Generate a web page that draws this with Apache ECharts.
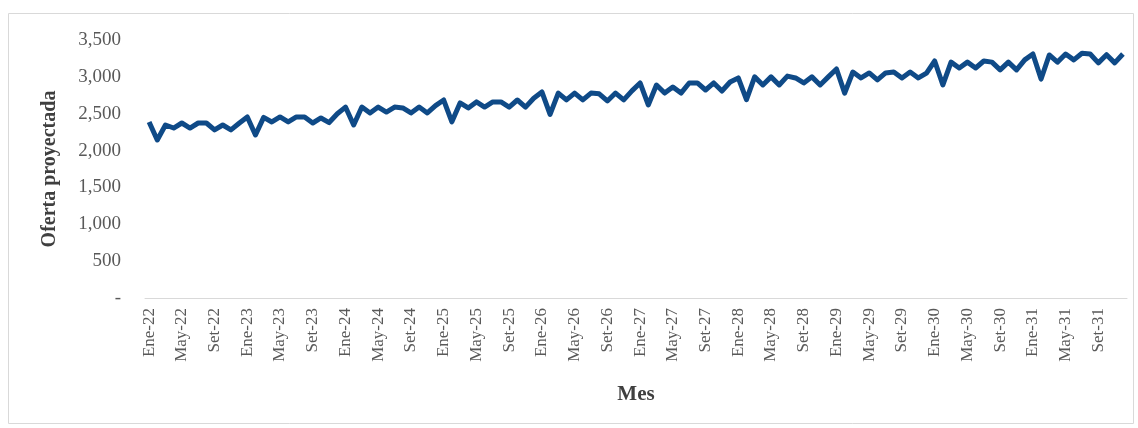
<!DOCTYPE html>
<html>
<head>
<meta charset="utf-8">
<script src="https://cdn.jsdelivr.net/npm/echarts@6/dist/echarts.min.js"></script>
<style>
  html, body { margin: 0; padding: 0; background: #fff; }
  #chart { width: 1138px; height: 428px; }
</style>
</head>
<body>
<div id="chart"></div>
<script>
// months and years for the category labels
var meses = ["Ene", "Feb", "Mar", "Abr", "May", "Jun", "Jul", "Ago", "Set", "Oct", "Nov", "Dic"];
var anios = ["22", "23", "24", "25", "26", "27", "28", "29", "30", "31"];

// projected supply, one list per year
var oferta2022 = [2388, 2144, 2347, 2306, 2374, 2306, 2374, 2374, 2280, 2347, 2280, 2370];
var oferta2023 = [2456, 2212, 2450, 2388, 2456, 2388, 2456, 2456, 2374, 2442, 2380, 2500];
var oferta2024 = [2590, 2347, 2590, 2510, 2590, 2523, 2590, 2578, 2510, 2590, 2510, 2610];
var oferta2025 = [2686, 2390, 2646, 2578, 2660, 2590, 2660, 2660, 2590, 2686, 2590, 2710];
var oferta2026 = [2795, 2490, 2780, 2687, 2780, 2687, 2780, 2770, 2673, 2780, 2687, 2810];
var oferta2027 = [2917, 2619, 2890, 2780, 2863, 2780, 2917, 2917, 2822, 2917, 2808, 2930];
var oferta2028 = [2985, 2690, 3000, 2890, 3000, 2890, 3010, 2985, 2917, 3000, 2890, 3000];
var oferta2029 = [3107, 2780, 3066, 2985, 3053, 2958, 3053, 3066, 2985, 3066, 2985, 3050];
var oferta2030 = [3215, 2890, 3200, 3120, 3200, 3120, 3215, 3200, 3094, 3200, 3094, 3230];
var oferta2031 = [3310, 2970, 3297, 3200, 3310, 3230, 3320, 3310, 3190, 3300, 3190, 3310];

var categorias = [];
anios.forEach(function (a) {
  meses.forEach(function (m) { categorias.push(m + "-" + a); });
});
var oferta = [].concat(oferta2022, oferta2023, oferta2024, oferta2025, oferta2026,
  oferta2027, oferta2028, oferta2029, oferta2030, oferta2031);

var myChart = echarts.init(document.getElementById("chart"));
var serif = "Liberation Serif, Times New Roman, serif";
var option = {
  animation: false,
  graphic: [{
    type: "rect",
    shape: { x: 8.5, y: 13.5, width: 1125, height: 410 },
    style: { fill: "none", stroke: "#d9d9d9", lineWidth: 1 }
  }],
  grid: { left: 145, right: 11, top: 40, bottom: 130 },
  xAxis: {
    type: "category",
    data: categorias,
    boundaryGap: true,
    name: "Mes",
    nameLocation: "middle",
    nameGap: 86,
    nameTextStyle: { fontFamily: serif, fontSize: 21, fontWeight: "bold", color: "#3f3f3f" },
    axisLine: { lineStyle: { color: "#d9d9d9", width: 1 } },
    axisTick: { interval: 3, length: 5, lineStyle: { color: "#d9d9d9" } },
    axisLabel: {
      interval: 3,
      rotate: 90,
      margin: 10,
      fontFamily: serif,
      fontSize: 17,
      color: "#595959"
    }
  },
  yAxis: {
    type: "value",
    min: 0,
    max: 3500,
    interval: 500,
    name: "Oferta proyectada",
    nameLocation: "middle",
    nameGap: 85,
    nameRotate: 90,
    nameTextStyle: { fontFamily: serif, fontSize: 20, fontWeight: "bold", color: "#3f3f3f" },
    axisLine: { show: false },
    axisTick: { show: false },
    splitLine: { show: false },
    axisLabel: {
      margin: 24,
      fontFamily: serif,
      fontSize: 19,
      color: "#595959",
      formatter: function (v) {
        return v === 0 ? "-" : v.toLocaleString("en-US");
      }
    }
  },
  series: [{
    type: "line",
    data: oferta,
    showSymbol: false,
    lineStyle: { color: "#0f4a87", width: 5, join: "round" },
    itemStyle: { color: "#0f4a87" }
  }]
};
myChart.setOption(option);
</script>
</body>
</html>
